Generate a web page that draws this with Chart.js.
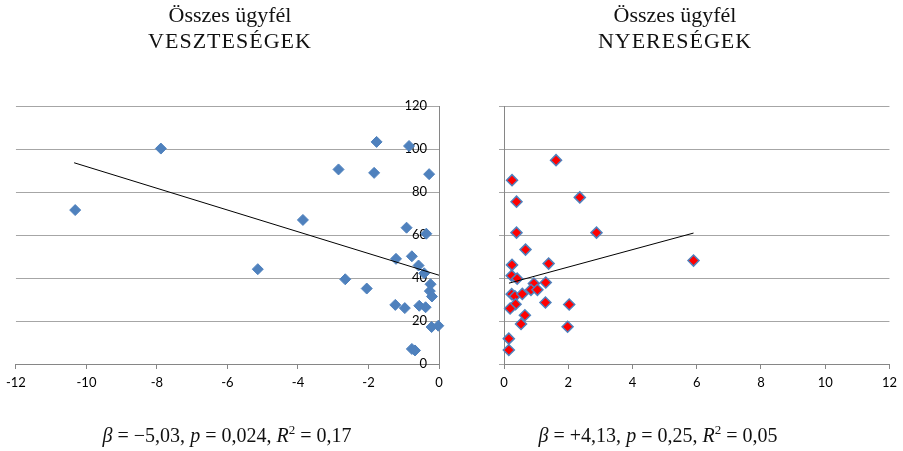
<!DOCTYPE html>
<html>
<head>
<meta charset="utf-8">
<script src="https://cdn.jsdelivr.net/npm/chart.js@4"></script>
<style>
  body { margin: 0; background: #fff; }
  #wrap { position: relative; width: 903px; height: 451px; overflow: hidden; }
  canvas { position: absolute; top: 0; }
  .title { position: absolute; top: 2px; width: 300px; text-align: center;
           font-family: "Liberation Serif", serif; font-size: 22px; line-height: 26px; color: #111; }
  .title .caps { letter-spacing: 1px; }
  .formula { position: absolute; top: 424px; width: 400px; text-align: center;
             font-family: "Liberation Serif", serif; font-size: 20px; color: #111; white-space: nowrap; }
  .formula sup { font-size: 13px; line-height: 0; }
</style>
</head>
<body>
<div id="wrap">
  <canvas id="lossChart" width="451" height="451" style="left:0"></canvas>
  <canvas id="gainChart" width="452" height="451" style="left:451px"></canvas>
  <div class="title" style="left:80px">Összes ügyfél<br><span class="caps">VESZTESÉGEK</span></div>
  <div class="title" style="left:525px">Összes ügyfél<br><span class="caps">NYERESÉGEK</span></div>
  <div class="formula" style="left:27px"><i>β</i> = −5,03, <i>p</i> = 0,024, <i>R</i><sup>2</sup> = 0,17</div>
  <div class="formula" style="left:458px"><i>β</i> = +4,13, <i>p</i> = 0,25, <i>R</i><sup>2</sup> = 0,05</div>
</div>
<script>
// VESZTESÉGEK (losses)
const lossX = [-10.32, -7.89, -1.77, -0.85, -2.85, -1.84, -0.28, -3.86, -0.92, -0.36,
               -5.14, -1.22, -0.77, -0.58, -0.42, -2.66, -2.05, -0.24, -0.26, -0.20,
               -1.24, -0.97, -0.56, -0.38, -0.21, -0.02, -0.77, -0.68];
const lossY = [71.6, 100.2, 103.3, 101.4, 90.5, 88.9, 88.3, 67.0, 63.4, 60.6,
               44.1, 48.9, 50.1, 45.8, 42.2, 39.4, 35.1, 37.1, 33.9, 31.4,
               27.5, 26.0, 27.1, 26.4, 17.2, 17.8, 7.0, 6.3];
const lossTrendX = [-10.35, 0];
const lossTrendY = [93.6, 41.3];

// NYERESÉGEK (gains)
const gainX = [1.62, 0.25, 2.36, 0.39, 0.39, 2.88, 0.67, 5.90, 0.25, 1.39,
               0.24, 0.41, 1.30, 0.93, 0.84, 1.04, 0.24, 0.34, 0.57, 0.36,
               1.29, 2.03, 0.19, 0.65, 0.53, 1.98, 0.15, 0.15];
const gainY = [94.8, 85.5, 77.5, 75.5, 61.1, 61.1, 53.2, 48.1, 46.1, 46.7,
               41.1, 39.7, 37.9, 37.4, 34.5, 34.5, 32.5, 31.5, 32.6, 27.8,
               28.6, 27.7, 25.8, 22.7, 18.6, 17.3, 11.8, 6.5];
const gainTrendX = [0.155, 5.9];
const gainTrendY = [37.6, 60.9];

const yTicks = [0, 20, 40, 60, 80, 100, 120];

const toPoints = (xs, ys) => xs.map((x, i) => ({ x: x, y: ys[i] }));

const tickFont = { family: 'Lato', size: 13 };
const axisGray = '#868686';
const gridGray = '#a6a6a6';

function makeChart(id, opts) {
  return new Chart(document.getElementById(id), {
    type: 'scatter',
    data: {
      datasets: [{
        type: 'line',
        data: toPoints(opts.trendX, opts.trendY),
        borderColor: '#000',
        borderWidth: 1,
        pointRadius: 0,
        fill: false,
        order: 0
      }, {
        data: toPoints(opts.xs, opts.ys),
        pointStyle: 'rectRot',
        pointRadius: 5.5,
        backgroundColor: opts.fill,
        borderColor: '#4F81BD',
        borderWidth: opts.border,
        clip: false,
        order: 1
      }]
    },
    options: {
      responsive: false,
      animation: false,
      locale: 'en-US',
      layout: { padding: opts.padding },
      plugins: { legend: { display: false }, tooltip: { enabled: false }, title: { display: false } },
      scales: {
        x: {
          type: 'linear',
          min: opts.xMin,
          max: opts.xMax,
          afterFit: s => { s.height = 33; },
          ticks: { stepSize: 2, autoSkip: false, font: tickFont, color: '#000', padding: 6, maxRotation: 0 },
          grid: { drawOnChartArea: false, drawTicks: true, tickLength: 5, color: axisGray },
          border: { color: axisGray, width: 1 }
        },
        y: {
          position: opts.yPos,
          min: 0,
          max: 120,
          afterFit: s => { s.width = 0; },
          afterBuildTicks: s => { s.ticks = yTicks.map(v => ({ value: v })); },
          ticks: { font: tickFont, color: '#000', mirror: opts.mirror, padding: opts.yPad },
          grid: { color: gridGray, drawTicks: !opts.mirror, tickLength: 5 },
          border: { color: axisGray, width: 1 }
        }
      }
    }
  });
}

makeChart('lossChart', {
  xs: lossX, ys: lossY, trendX: lossTrendX, trendY: lossTrendY,
  fill: '#4F81BD', border: 1,
  xMin: -12, xMax: 0, yPos: 'right', mirror: true, yPad: -12,
  padding: { left: 14, right: 12, top: 106, bottom: 54 }
});

makeChart('gainChart', {
  xs: gainX, ys: gainY, trendX: gainTrendX, trendY: gainTrendY,
  fill: '#FF0000', border: 1.5,
  xMin: 0, xMax: 12, yPos: 'left', mirror: false, yPad: 7,
  padding: { left: 53, right: 12, top: 106, bottom: 54 }
});
</script>
</body>
</html>
